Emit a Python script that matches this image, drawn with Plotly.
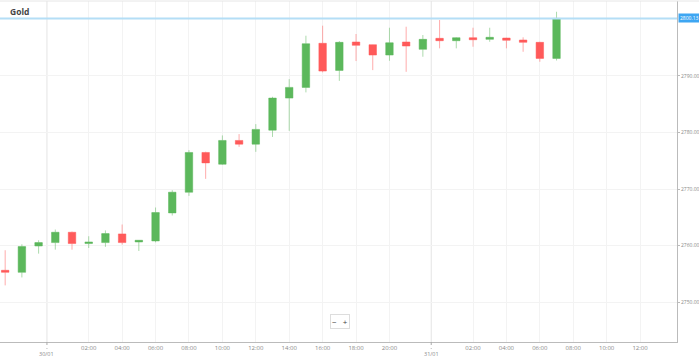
import plotly.graph_objects as go

# ---- data (hourly candles, market break at 23:00) ----
times = (["29/01 20:00", "29/01 21:00", "29/01 22:00"]
         + ["30/01 %02d:00" % h for h in range(0, 23)]
         + ["31/01 %02d:00" % h for h in range(0, 8)])

opens = [2755.66, 2755.30, 2759.95, 2760.55, 2762.37, 2760.38, 2760.55, 2762.08,
         2760.66, 2760.84, 2765.79, 2769.44, 2776.46, 2774.39, 2778.58, 2777.93,
         2780.40, 2786.06, 2787.95, 2795.73, 2790.95, 2795.96, 2795.48, 2793.66,
         2795.96, 2794.67, 2796.61, 2796.19, 2796.72, 2796.43, 2796.66, 2796.31,
         2795.90, 2793.07]
highs = [2759.20, 2760.25, 2760.96, 2762.85, 2762.50, 2761.67, 2762.70, 2763.74,
         2761.00, 2766.74, 2769.80, 2776.87, 2776.60, 2779.47, 2779.70, 2781.46,
         2786.29, 2789.40, 2797.07, 2798.84, 2796.13, 2797.37, 2795.50, 2798.48,
         2798.66, 2797.19, 2799.84, 2796.80, 2798.48, 2798.48, 2796.70, 2796.79,
         2796.00, 2801.30]
lows = [2753.00, 2754.40, 2758.60, 2759.30, 2759.30, 2759.60, 2759.80, 2760.20,
        2759.07, 2760.60, 2765.33, 2768.79, 2771.80, 2774.30, 2777.45, 2776.57,
        2779.20, 2780.28, 2787.07, 2790.60, 2789.10, 2792.60, 2791.00, 2792.65,
        2790.70, 2793.36, 2794.84, 2794.84, 2795.13, 2796.00, 2794.84, 2794.24,
        2792.47, 2792.70]
closes = [2755.30, 2759.85, 2760.55, 2762.37, 2760.38, 2760.66, 2762.14, 2760.55,
          2760.96, 2765.86, 2769.44, 2776.46, 2774.62, 2778.58, 2777.93, 2780.53,
          2786.06, 2787.95, 2795.66, 2790.83, 2795.90, 2795.37, 2793.66, 2795.83,
          2795.25, 2796.43, 2796.19, 2796.72, 2796.36, 2796.79, 2796.26, 2795.90,
          2793.07, 2800.13]

last_price = 2800.13
title = "Gold"

# time-axis tick labels (slot = hourly position on the break-compressed axis)
hour_tick_slots = [5, 7, 9, 11, 13, 15, 17, 19, 21, 23, 28, 30, 32, 34, 36, 38]
hour_tick_labels = ["02:00", "04:00", "06:00", "08:00", "10:00", "12:00", "14:00",
                    "16:00", "18:00", "20:00", "02:00", "04:00", "06:00", "08:00",
                    "10:00", "12:00"]
day_slots = [2.5, 25.5]
day_labels = ["30/01", "31/01"]

y_ticks = [2750, 2760, 2770, 2780, 2790]
y_tick_labels = ["%.2f" % v for v in y_ticks]

slots = list(range(len(times)))

GREEN = "#5cb85c"
RED = "#ff5a5a"
FONT = "Open Sans"

fig = go.Figure()
fig.add_trace(go.Candlestick(
    x=slots, open=opens, high=highs, low=lows, close=closes,
    text=times, hoverinfo="text+y",
    increasing=dict(fillcolor=GREEN, line=dict(color="rgba(92,184,92,0.5)", width=1)),
    decreasing=dict(fillcolor=RED, line=dict(color="rgba(255,90,90,0.5)", width=1)),
    whiskerwidth=0,
    showlegend=False,
))

shapes = []
# day separators
for s in day_slots:
    shapes.append(dict(type="line", xref="x", yref="paper", x0=s, x1=s, y0=0, y1=1,
                       line=dict(color="#e4e4e4", width=1), layer="below"))
    shapes.append(dict(type="line", xref="x", yref="paper", x0=s, x1=s, y0=0, y1=-0.02,
                       line=dict(color="#aaaaaa", width=1, dash="dot")))
# top border
shapes.append(dict(type="line", xref="paper", yref="paper", x0=0, x1=1.04, y0=1, y1=1,
                   line=dict(color="#e6e6e6", width=1)))
# last price line
shapes.append(dict(type="line", xref="paper", yref="y", x0=0, x1=1, y0=last_price, y1=last_price,
                   line=dict(color="rgb(180,222,246)", width=2)))

annotations = []
for s, lab in zip(day_slots, day_labels):
    annotations.append(dict(x=s, xref="x", y=0, yref="paper", yanchor="top", yshift=-7,
                            text=lab, showarrow=False, borderpad=0,
                            font=dict(size=5.5, color="#888888", family=FONT)))
annotations.append(dict(x=1, xref="paper", xanchor="left", xshift=1, y=last_price, yref="y",
                        yanchor="middle",
                        text="%.2f" % last_price, showarrow=False, bgcolor="#3ea6f2",
                        borderpad=1, font=dict(size=5, color="white", family=FONT)))
annotations.append(dict(x=0.012, xref="paper", xanchor="left", y=0.970, yref="paper",
                        yanchor="middle", text="<b>%s</b>" % title, showarrow=False,
                        font=dict(size=8.5, color="#444444", family=FONT)))
annotations.append(dict(x=0.502, xref="paper", xanchor="center", y=0.061, yref="paper",
                        yanchor="middle", text="−   +",
                        showarrow=False, bgcolor="white", bordercolor="#dddddd",
                        borderwidth=1, borderpad=1,
                        font=dict(size=8, color="#444444", family=FONT)))

fig.update_layout(
    template=None,
    width=699, height=358,
    margin=dict(l=0, r=22, t=1, b=16, autoexpand=False),
    paper_bgcolor="white", plot_bgcolor="white",
    boxgap=0.36,
    hovermode="closest",
    shapes=shapes, annotations=annotations,
    xaxis=dict(range=[-0.31, 40.21], tickmode="array", tickvals=hour_tick_slots,
               ticktext=hour_tick_labels, showgrid=True, gridcolor="#f3f3f3", gridwidth=1,
               zeroline=False, showline=True, linecolor="#bbbbbb", linewidth=1,
               ticks="", ticklabelstandoff=0, automargin=False,
               tickfont=dict(size=6, color="#888888", family=FONT),
               rangeslider=dict(visible=False), fixedrange=True),
    yaxis=dict(side="right", range=[2743.0, 2803.2], tickmode="array", tickvals=y_ticks,
               ticktext=y_tick_labels, showgrid=True, gridcolor="#f3f3f3", gridwidth=1,
               zeroline=False, showline=True, linecolor="#bbbbbb", linewidth=1,
               ticks="outside", ticklen=2, tickcolor="#bbbbbb", automargin=False,
               tickfont=dict(size=5, color="#888888", family=FONT),
               fixedrange=True),
)

fig.write_html("out.html", config={"displayModeBar": False},
               post_script="document.body.style.margin='0';document.body.style.overflow='hidden';")
